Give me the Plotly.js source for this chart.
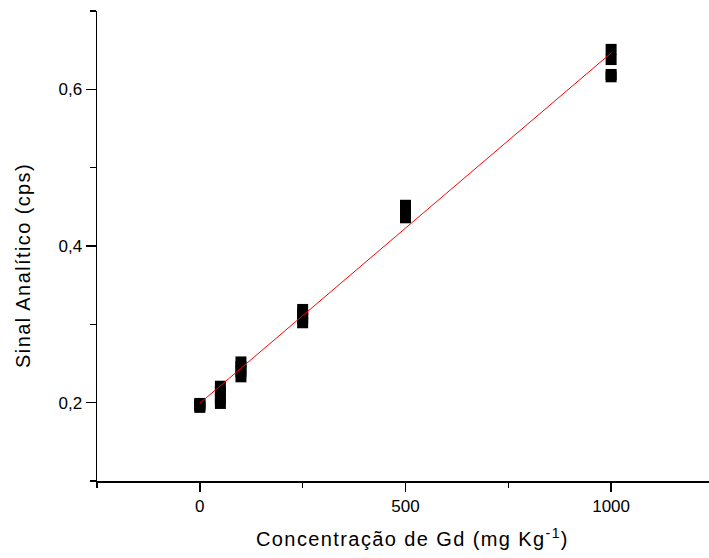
<!DOCTYPE html>
<html>
<head>
<meta charset="utf-8">
<script src="https://cdn.plot.ly/plotly-3.0.1.min.js"></script>
<style>
html,body{margin:0;padding:0;background:#fff;}
#chart{width:709px;height:558px;}
.annotation-text{letter-spacing:1.4px;}
</style>
</head>
<body>
<div id="chart"></div>
<script>
// Concentrations (mg/kg) and replicate readings (cps)
var concentrations = [0, 50, 100, 250, 500, 1000];
var rep1 = [0.194, 0.199, 0.233, 0.302, 0.436, 0.616];
var rep2 = [0.196, 0.206, 0.240, 0.308, 0.441, 0.619];
var rep3 = [0.198, 0.214, 0.246, 0.313, 0.447, 0.638];
var rep4 = [0.199, 0.221, 0.252, 0.319, 0.452, 0.651];
// Linear fit endpoints
var fitX = [0, 1000];
var fitY = [0.1992, 0.6464];

var xTickVals = [0, 500, 1000];
var xTickText = ['0', '500', '1000'];
var yTickVals = [0.2, 0.4, 0.6];
var yTickText = ['0,2', '0,4', '0,6'];

var xs = [], ys = [];
[rep1, rep2, rep3, rep4].forEach(function (r) {
  for (var i = 0; i < concentrations.length; i++) { xs.push(concentrations[i]); ys.push(r[i]); }
});

var traces = [
  {
    x: xs, y: ys, type: 'scatter', mode: 'markers',
    marker: {symbol: 'square', size: 11, color: '#000000', line: {width: 0}},
    hoverinfo: 'skip', showlegend: false, cliponaxis: false
  },
  {
    x: fitX, y: fitY, type: 'scatter', mode: 'lines',
    line: {color: '#ff0000', width: 1}, hoverinfo: 'skip', showlegend: false
  }
];

var axisFont = {family: 'Liberation Sans, Arial, sans-serif', size: 17, color: '#000'};

var layout = {
  width: 709, height: 558,
  margin: {l: 97, r: 0, t: 11, b: 77, pad: 0},
  paper_bgcolor: '#fff', plot_bgcolor: '#fff',
  separators: ',.',
  showlegend: false,
  xaxis: {
    range: [-250, 1238], showgrid: false, zeroline: false,
    showline: true, linecolor: '#000', linewidth: 1.5,
    ticks: 'outside', ticklen: 9, tickwidth: 1.5, tickcolor: '#000',
    tickmode: 'array', tickvals: xTickVals, ticktext: xTickText,
    tickfont: axisFont,
    minor: {dtick: 250, tick0: 0, ticks: 'outside', ticklen: 5, tickwidth: 1.5, tickcolor: '#000', showgrid: false}
  },
  yaxis: {
    range: [0.1, 0.7], showgrid: false, zeroline: false,
    showline: true, linecolor: '#000', linewidth: 1.5,
    ticks: 'outside', ticklen: 10, tickwidth: 1.5, tickcolor: '#000',
    tickmode: 'array', tickvals: yTickVals, ticktext: yTickText,
    tickfont: axisFont,
    minor: {dtick: 0.1, tick0: 0.1, ticks: 'outside', ticklen: 6, tickwidth: 1.5, tickcolor: '#000', showgrid: false}
  },
  annotations: [
    {
      text: 'Concentração de Gd (mg Kg<sup>-1</sup>)',
      xref: 'paper', yref: 'paper', x: 0.516, y: -0.121,
      xanchor: 'center', yanchor: 'middle', showarrow: false,
      font: {family: 'Liberation Sans, Arial, sans-serif', size: 20, color: '#000'}
    },
    {
      text: 'Sinal Analítico (cps)',
      xref: 'paper', yref: 'paper', x: -0.1198, y: 0.459,
      xanchor: 'center', yanchor: 'middle', showarrow: false, textangle: -90,
      font: {family: 'Liberation Sans, Arial, sans-serif', size: 20, color: '#000'}
    }
  ]
};

Plotly.newPlot('chart', traces, layout, {displayModeBar: false, staticPlot: true});
</script>
</body>
</html>
